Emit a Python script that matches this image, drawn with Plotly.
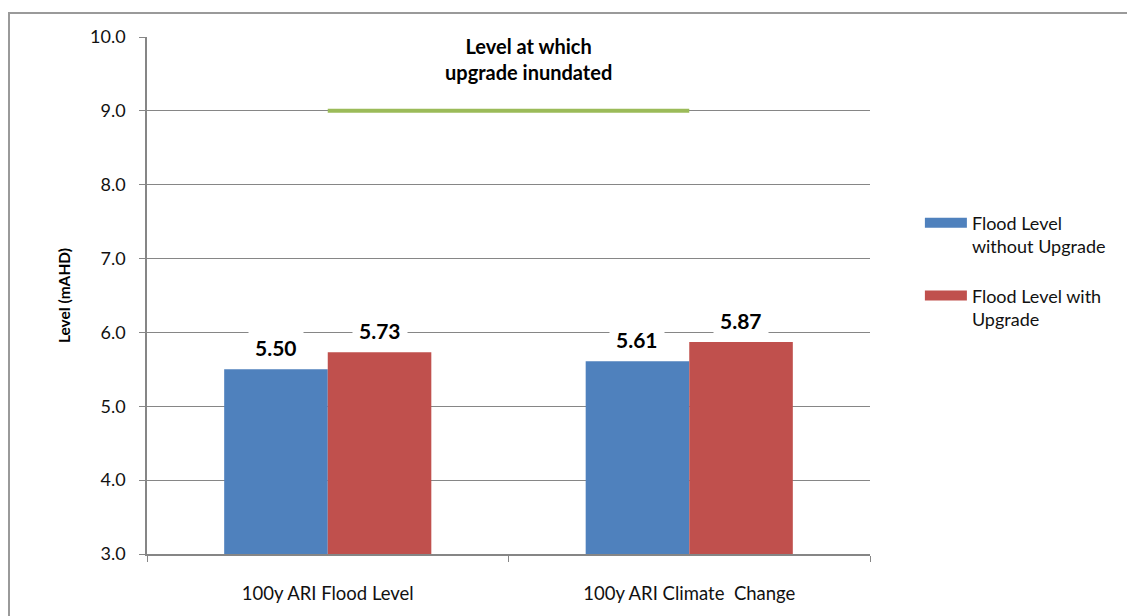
import plotly.graph_objects as go

# Chart data
categories = ["100y ARI Flood Level", "100y ARI Climate\u00a0 Change"]
without_upgrade = [5.50, 5.61]
with_upgrade = [5.73, 5.87]
series_names = ["Flood Level<br>without Upgrade", "Flood Level with<br>Upgrade"]
series_colors = ["#4F81BD", "#C0504D"]
inundation_level = 9.0
inundation_label = "Level at which<br>upgrade inundated"
y_ticks = [3, 4, 5, 6, 7, 8, 9, 10]

FONT = "Lato"
GRID = "#868686"

fig = go.Figure()

series_values = [without_upgrade, with_upgrade]
for name, vals, col in zip(series_names, series_values, series_colors):
    fig.add_trace(go.Bar(x=categories, y=vals, name=name, marker_color=col,
                         marker_line_width=0, showlegend=False))

# Threshold line at the level the upgrade is inundated
fig.add_trace(go.Scatter(x=categories, y=[inundation_level] * len(categories),
                         mode="lines", line=dict(color="#9BBB59", width=4),
                         showlegend=False, hoverinfo="skip"))

# Legend entries drawn as wide colour swatches
for i, (name, col) in enumerate(zip(series_names, series_colors)):
    fig.add_trace(go.Scatter(x=[None], y=[None], mode="lines", name=name,
                             legendgroup=f"g{i}",
                             line=dict(color=col, width=10)))

# Value labels above each bar
offsets = [-52, 52]
for vals, dx in zip(series_values, offsets):
    for cat, v in zip(categories, vals):
        fig.add_annotation(x=cat, y=v, text=f"{v:.2f}", showarrow=False,
                           xshift=dx, yshift=22, yanchor="middle",
                           font=dict(family=FONT, size=21, color="black", weight="bold"),
                           bgcolor="white", borderpad=6)

fig.add_annotation(xref="paper", yref="paper", x=0.528, y=0.9565,
                   text=inundation_label, showarrow=False, yanchor="middle",
                   font=dict(family=FONT, size=20, color="black", weight="bold"),
                   bgcolor="white", borderpad=5)

# Outer chart frame
fig.add_shape(type="rect", xref="paper", yref="paper",
              x0=(9 - 147) / 723, x1=(1135 - 147) / 723,
              y0=(554 - 625) / 517, y1=(554 - 13) / 517,
              line=dict(color="#9A9A9A", width=2), fillcolor="rgba(0,0,0,0)",
              layer="below")

fig.update_layout(
    width=1127, height=616,
    margin=dict(l=147, r=257, t=37, b=62),
    paper_bgcolor="white", plot_bgcolor="white",
    barmode="group", bargap=0.427, bargroupgap=0,
    font=dict(family=FONT, color="#111111"),
    legend=dict(x=1.069, y=0.676, xanchor="left", yanchor="top",
                valign="top", itemwidth=42, tracegroupgap=23,
                font=dict(family=FONT, size=18, color="#111111")),
    xaxis=dict(showline=True, linecolor=GRID, linewidth=1.5,
               ticks="outside", tickson="boundaries", ticklen=6,
               tickcolor=GRID, tickfont=dict(family=FONT, size=18.5),
               ticklabelstandoff=22),
    yaxis=dict(range=[3, 10], tickvals=y_ticks, tickformat=".1f",
               showline=True, linecolor=GRID, linewidth=1.5,
               showgrid=True, gridcolor=GRID, gridwidth=1,
               ticks="outside", ticklen=6, tickcolor=GRID,
               tickfont=dict(family=FONT, size=18),
               ticklabelstandoff=10,
               zeroline=False,
               title=dict(text="Level (mAHD)", standoff=16,
                          font=dict(family=FONT, size=15.5, weight="bold",
                                    color="black"))),
)

fig.write_html("out.html")
